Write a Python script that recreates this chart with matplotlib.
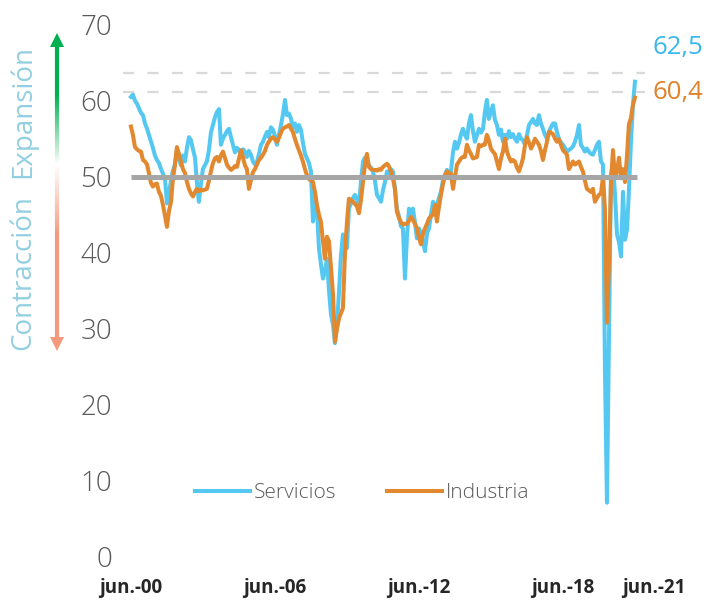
import numpy as np
import pandas as pd
import matplotlib
matplotlib.use("Agg")
import matplotlib.pyplot as plt
from matplotlib.collections import LineCollection
from matplotlib.transforms import ScaledTranslation

plt.rcParams['font.family'] = ['Open Sans', 'DejaVu Sans']

# PMI mensual, jun-2000 a jun-2021
meses = pd.date_range('2000-06-01', '2021-06-01', freq='MS')

servicios = [
    60.5, 60.8, 60.0, 59.6, 59.0, 58.4, 58.1, 57.0, 56.3, 55.5, 54.6, 53.8,
    52.8, 52.2, 51.8, 51.0, 50.4, 49.7, 46.5, 48.0, 49.5, 50.8, 51.6, 53.3,
    52.5, 51.5, 52.8, 52.0, 53.8, 55.2, 54.8, 53.6, 52.5, 49.3, 46.7, 49.0,
    51.0, 51.5, 52.0, 53.5, 55.8, 56.8, 57.8, 58.5, 58.9, 54.2, 55.0, 55.5,
    56.0, 56.3, 55.2, 54.2, 53.2, 53.8, 53.5, 52.8, 53.6, 53.3, 52.6, 53.4,
    52.9, 52.0, 51.6, 52.0, 53.0, 54.2, 54.6, 55.3, 55.9, 55.2, 56.5, 56.2,
    55.4, 54.2, 55.5, 56.8, 58.2, 60.1, 58.1, 58.3, 57.6, 56.5, 57.0, 55.9,
    56.8, 56.2, 54.5, 53.0, 52.4, 51.8, 50.7, 44.1, 46.8, 45.8, 40.6, 38.5,
    36.6, 37.5, 39.2, 35.0, 31.9, 30.5, 28.1, 30.5, 35.0, 39.5, 42.4, 41.5,
    40.6, 45.8, 46.5, 47.2, 47.6, 47.0, 45.8, 49.5, 52.0, 52.5, 52.0, 51.5,
    51.2, 50.7, 49.5, 47.6, 47.2, 46.7, 48.2, 49.3, 50.7, 50.2, 51.0, 50.7,
    48.5, 45.8, 44.8, 43.5, 43.2, 36.6, 42.0, 45.8, 45.0, 45.8, 44.0, 41.9,
    43.2, 42.5, 41.5, 40.2, 42.5, 43.2, 45.0, 46.7, 45.8, 46.3, 47.2, 48.0,
    49.5, 50.3, 50.9, 50.0, 50.7, 53.2, 54.6, 53.7, 54.5, 55.5, 56.3, 55.5,
    55.0, 57.0, 58.1, 56.0, 54.6, 55.5, 56.3, 55.8, 56.3, 58.5, 60.1, 57.6,
    58.5, 59.4, 57.5, 56.8, 55.5, 56.2, 54.6, 55.5, 55.0, 56.0, 55.2, 55.6,
    55.0, 54.6, 55.6, 55.0, 54.8, 54.2, 55.5, 56.8, 57.2, 57.6, 57.0, 56.8,
    58.1, 57.0, 56.3, 55.5, 55.0, 55.9, 56.5, 57.0, 57.0, 55.9, 55.0, 54.5,
    54.2, 53.8, 53.3, 53.5, 53.7, 54.0, 54.6, 55.5, 56.8, 54.2, 53.8, 53.3,
    53.7, 53.3, 53.0, 52.9, 53.5, 54.2, 54.6, 52.0, 51.6, 25.0, 7.1, 27.9,
    50.2, 51.9, 47.7, 42.4, 41.4, 39.5, 48.0, 41.7, 43.1, 48.1, 54.6, 59.4,
    62.5,
]

industria = [
    56.6, 55.5, 53.9, 53.6, 53.4, 53.3, 52.2, 52.0, 51.6, 50.5, 49.2, 48.7,
    49.0, 49.1, 48.0, 47.5, 46.3, 44.8, 43.4, 45.5, 46.7, 49.7, 51.5, 53.9,
    53.0, 52.0, 51.0, 50.5, 49.3, 48.4, 47.8, 47.4, 48.0, 48.4, 48.1, 48.3,
    48.2, 48.3, 48.4, 49.5, 50.7, 51.8, 52.4, 52.6, 52.0, 52.8, 53.3, 52.5,
    51.6, 51.2, 50.9, 51.1, 51.4, 51.3, 52.4, 53.5, 52.5, 51.5, 51.0, 48.4,
    49.5, 50.6, 51.0, 51.6, 52.2, 52.5, 52.9, 53.4, 54.2, 54.6, 55.0, 55.2,
    54.9, 54.6, 55.1, 55.8, 56.3, 56.5, 56.6, 56.8, 56.3, 55.9, 55.0, 54.2,
    53.5, 52.8, 52.0, 51.0, 50.2, 49.7, 49.5, 49.3, 48.0, 46.3, 45.0, 44.1,
    41.5, 39.2, 42.1, 41.5, 38.0, 34.5, 28.3, 30.0, 31.4, 32.0, 32.7, 39.8,
    44.0, 47.1, 46.9, 46.7, 46.4, 46.1, 45.2, 47.0, 49.3, 51.5, 53.0, 51.3,
    51.0, 50.9, 50.9, 50.8, 51.0, 50.9, 51.3, 51.5, 51.7, 51.4, 50.7, 49.8,
    48.4, 45.4, 44.6, 44.0, 43.7, 43.8, 43.8, 44.2, 44.7, 44.3, 43.8, 43.2,
    42.0, 41.1, 42.5, 43.2, 43.8, 44.5, 44.8, 45.0, 46.3, 44.1, 46.0, 47.6,
    49.0, 50.1, 50.7, 50.5, 50.4, 48.4, 50.0, 51.6, 52.0, 52.4, 52.6, 52.6,
    54.2, 53.5, 53.0, 52.4, 52.5, 52.6, 54.2, 54.0, 54.2, 54.2, 55.5, 54.8,
    53.7, 53.3, 53.0, 52.0, 51.0, 52.4, 53.3, 55.0, 53.3, 52.6, 52.0, 52.2,
    52.0, 51.2, 50.7, 51.5, 52.4, 54.2, 55.2, 54.5, 53.7, 54.2, 55.0, 54.6,
    54.2, 53.4, 52.2, 53.5, 54.6, 55.9, 55.8, 55.6, 55.0, 54.6, 54.9, 54.2,
    53.5, 53.2, 52.9, 51.0, 51.5, 52.0, 51.6, 51.8, 52.0, 51.3, 50.7, 49.5,
    48.4, 48.2, 48.0, 48.4, 46.7, 47.2, 47.6, 47.8, 50.0, 45.7, 30.8, 38.3,
    49.0, 53.5, 49.9, 50.8, 52.5, 49.8, 51.0, 49.3, 52.9, 56.9, 57.7, 59.4,
    60.4,
]

fechas_ticks = ['2000-06-01', '2006-06-01', '2012-06-01', '2018-06-01', '2021-06-01']
etiquetas_x = ['jun.-00', 'jun.-06', 'jun.-12', 'jun.-18', 'jun.-21']
ultimo_serv = '62,5'
ultimo_ind = '60,4'

azul = '#55c8f2'
naranja = '#e2882e'
gris_txt = '#595959'

fig = plt.figure(figsize=(7.15, 6.01), dpi=100)
W, H = 715, 601
ax = fig.add_axes([123 / W, 1 - 556.7 / H, 522 / W, 532 / H])

ax.plot(meses, servicios, color=azul, lw=2.9, label='Servicios', zorder=3)
ax.plot(meses, industria, color=naranja, lw=2.9, label='Industria', zorder=4)
ax.hlines(50, meses[0], meses[-1] + pd.DateOffset(months=1), color='#a6a6a6', lw=3.6, zorder=5)
for v in (63.6, 61.1):
    ax.axhline(v, color='#d9d9d9', lw=1.6, dashes=(5, 6), zorder=1)

ax.set_ylim(0, 70)
ax.set_xlim(pd.Timestamp('2000-02-01'), pd.Timestamp('2021-11-01'))
for s in ax.spines.values():
    s.set_visible(False)

ax.set_yticks(range(0, 71, 10))
ax.tick_params(axis='y', length=0, pad=8, labelsize=20, labelcolor=gris_txt)
for t in ax.get_yticklabels():
    t.set_fontweight('light')

ax.set_xticks(pd.to_datetime(fechas_ticks))
ax.set_xticklabels(etiquetas_x, fontweight='bold', fontsize=13.5, color='#262626')
ax.tick_params(axis='x', length=0, pad=15)
lbl = ax.get_xticklabels()[-1]
lbl.set_transform(lbl.get_transform() + ScaledTranslation(0.19, 0, fig.dpi_scale_trans))

leg = ax.legend(loc='center', bbox_to_anchor=(0.458, 0.12), ncol=2, frameon=False,
                fontsize=15, handlelength=2.65, handletextpad=0.2, columnspacing=2.4)
for t in leg.get_texts():
    t.set_color(gris_txt)
    t.set_fontweight('light')

ax.text(1.015, 0.958, ultimo_serv, transform=ax.transAxes, color='#3ab8ec',
        fontsize=18.5, va='center', ha='left')
ax.text(1.015, 0.873, ultimo_ind, transform=ax.transAxes, color='#e0822a',
        fontsize=18.5, va='center', ha='left')

# etiqueta del eje y con flecha degradada
fig.text(23 / W, 1 - 111 / H, 'Expansión', rotation=90, color='#92cfe0',
         fontsize=20, ha='center', va='center')
fig.text(23 / W, 1 - 273 / H, 'Contracción', rotation=90, color='#92cfe0',
         fontsize=20, ha='center', va='center')

ov = fig.add_axes([0, 0, 1, 1], zorder=-1)
ov.set_xlim(0, W)
ov.set_ylim(H, 0)
ov.axis('off')
xa = 57
ys = np.linspace(45, 340, 300)
stops_y = [45, 95, 165, 235, 340]
verde = np.array([0, 176, 80]) / 255
blanco = np.array([1, 1, 1])
salmon = np.array([244, 153, 123]) / 255
stops_c = [verde, verde, blanco, salmon, salmon]
ymid = (ys[:-1] + ys[1:]) / 2
cols = np.column_stack([np.interp(ymid, stops_y, [c[i] for c in stops_c]) for i in range(3)])
segs = [[(xa, ys[i]), (xa, ys[i + 1])] for i in range(len(ys) - 1)]
ov.add_collection(LineCollection(segs, colors=cols, linewidths=3))
ov.fill([xa - 7, xa + 7, xa], [47, 47, 33], color=verde, lw=0)
ov.fill([xa - 7, xa + 7, xa], [337, 337, 351], color=salmon, lw=0)

fig.savefig('out.png', dpi=100)
